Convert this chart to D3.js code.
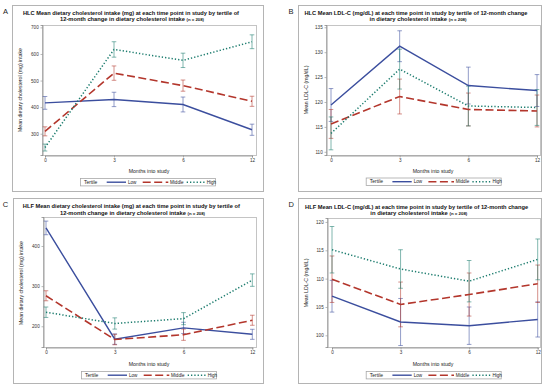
<!DOCTYPE html>
<html><head><meta charset="utf-8">
<script src="https://cdn.jsdelivr.net/npm/d3@7"></script>
<style>body{margin:0;background:#fff} svg{display:block;font-family:"Liberation Sans",Arial,sans-serif}</style>
</head><body><svg id="c" width="550" height="387"></svg>
<script>
// ---------- DATA ----------
const months = ["0", "3", "6", "12"];
const tertiles = ["Low", "Middle", "High"];

// Panel A: HLC dietary cholesterol (mg)
const aMean = [[416, 429, 410, 315], [309, 528, 481, 422], [248, 617, 576, 646]];
const aErr  = [[24, 27, 28, 21], [17, 27, 21, 19], [13, 29, 27, 26]];
const aTicks = [300, 400, 500, 600, 700];

// Panel B: HLC LDL-C (mg/dL)
const bMean = [[119.4, 131.2, 123.3, 122.3], [115.6, 121.1, 118.5, 118.2], [113.7, 126.6, 119.2, 118.9]];
const bErr  = [[3.3, 3.1, 3.7, 3.2], [2.9, 3.5, 3.3, 3.2], [3.3, 4.0, 4.0, 3.6]];
const bTicks = [110, 115, 120, 125, 130, 135];

// Panel C: HLF dietary cholesterol (mg)
const cMean = [[445, 168, 196, 180], [276, 167, 179, 215], [235, 207, 219, 315]];
const cErr  = [[17, 13, 14, 12.5], [12.5, 13, 14, 12.5], [13, 14, 15, 15.5]];
const cTicks = [200, 300, 400];

// Panel D: HLF LDL-C (mg/dL)
const dMean = [[106.9, 102.35, 101.7, 102.8], [109.9, 105.45, 107.2, 109.1], [115.1, 111.7, 109.55, 113.4]];
const dErr  = [[2.8, 4.15, 3.3, 3.1], [4.1, 3.95, 3.8, 3.3], [4.1, 3.4, 3.65, 3.6]];
const dTicks = [100, 105, 110, 115, 120];

const titleA = ["HLC Mean dietary cholesterol intake (mg) at each time point in study by tertile of", "12-month change in dietary cholesterol intake"];
const titleB = ["HLC Mean LDL-C (mg/dL) at each time point in study by tertile of 12-month change", "in dietary cholesterol intake"];
const titleC = ["HLF Mean dietary cholesterol intake (mg) at each time point in study by tertile of", "12-month change in dietary cholesterol intake"];
const titleD = ["HLF Mean LDL-C (mg/dL) at each time point in study by tertile of 12-month change", "in dietary cholesterol intake"];
const nNote = "(n = 208)";
const yLabChol = "Mean dietary cholesterol (mg) intake";
const yLabLdl = "Mean LDL-C (mg/dL)";
const xLab = "Months into study";
const legendTitle = "Tertile";

// ---------- STYLE ----------
const colors = ["#3B4E9E", "#B3362C", "#1C7C6E"];
const dashes = [null, "8,3.5", "1.3,2"];
const widths = [1.4, 1.6, 1.5];

const svg = d3.select("#c");
svg.append("rect").attr("width", 550).attr("height", 387).attr("fill", "#fff");

function panel(o) {
  const g = svg.append("g");
  // outer box
  g.append("rect").attr("x", o.box[0] + 0.5).attr("y", o.box[1] + 0.5)
    .attr("width", o.box[2] - o.box[0]).attr("height", o.box[3] - o.box[1])
    .attr("fill", "none").attr("stroke", "#b4b4b4").attr("stroke-width", 1);
  // letter
  g.append("text").attr("x", o.letter[1]).attr("y", o.letter[2]).text(o.letter[0])
    .attr("font-size", 7.5).attr("fill", "#222");
  // title
  const t1 = g.append("text").attr("x", o.t1[0]).attr("y", o.t1[1]).attr("text-anchor", "middle")
    .attr("font-size", 5.4).attr("font-weight", "bold").attr("fill", "#111")
    .attr("textLength", o.t1[2]).attr("lengthAdjust", "spacingAndGlyphs").text(o.title[0]);
  const t2 = g.append("text").attr("x", o.t2[0]).attr("y", o.t2[1]).attr("text-anchor", "middle")
    .attr("font-weight", "bold").attr("fill", "#111").attr("font-size", 5.4)
    .attr("textLength", o.t2[2]).attr("lengthAdjust", "spacingAndGlyphs");
  t2.append("tspan").text(o.title[1] + " ");
  t2.append("tspan").attr("font-size", 4).text(nNote);

  const p = o.plot;
  const x = d3.scalePoint().domain(months).range(o.xr);
  const y = d3.scaleLinear().domain(o.yd).range([p[3], p[1]]);

  // frame
  g.append("rect").attr("x", p[0] + 0.5).attr("y", p[1] + 0.5).attr("width", p[2] - p[0]).attr("height", p[3] - p[1])
    .attr("fill", "none").attr("stroke", "#c4c4c4").attr("stroke-width", 1);

  const ya = g.append("g").attr("transform", `translate(${p[0] + 0.5},0)`)
    .call(d3.axisLeft(y).tickValues(o.ticks).tickSize(2).tickPadding(1.8));
  const xa = g.append("g").attr("transform", `translate(0,${p[3] + 0.5})`)
    .call(d3.axisBottom(x).tickSize(2).tickPadding(1.6));
  [ya, xa].forEach(a => {
    a.select(".domain").attr("stroke", "#8a8a8a").attr("stroke-width", 0.8);
    a.selectAll(".tick line").attr("stroke", "#8a8a8a").attr("stroke-width", 0.6);
    a.selectAll(".tick text").attr("font-size", 4.6).attr("fill", "#333")
      .attr("font-family", '"Liberation Sans",Arial,sans-serif');
  });

  // axis labels
  g.append("text").attr("transform", `translate(${o.yl[0]},${o.yl[1]}) rotate(-90)`)
    .attr("text-anchor", "middle").attr("font-size", 5.2).attr("fill", "#222").text(o.ylab);
  g.append("text").attr("x", o.xl[0]).attr("y", o.xl[1]).attr("text-anchor", "middle")
    .attr("font-size", 5.2).attr("fill", "#222").text(xLab);

  // error bars
  o.mean.forEach((ser, si) => {
    const eg = g.append("g").attr("stroke", colors[si]).attr("stroke-opacity", 0.62).attr("stroke-width", 0.9).attr("fill", "none");
    ser.forEach((m, i) => {
      const cx = x(months[i]), lo = y(m - o.err[si][i]), hi = y(m + o.err[si][i]);
      eg.append("line").attr("x1", cx).attr("x2", cx).attr("y1", lo).attr("y2", hi);
      eg.append("line").attr("x1", cx - 2.3).attr("x2", cx + 2.3).attr("y1", lo).attr("y2", lo);
      eg.append("line").attr("x1", cx - 2.3).attr("x2", cx + 2.3).attr("y1", hi).attr("y2", hi);
    });
  });
  // lines
  const line = d3.line().x((d, i) => x(months[i])).y(d => y(d));
  o.mean.forEach((ser, si) => {
    g.append("path").attr("d", line(ser)).attr("fill", "none").attr("stroke", colors[si])
      .attr("stroke-width", widths[si]).attr("stroke-dasharray", dashes[si]);
  });

  // legend
  const L = o.leg;
  const lg = g.append("g").attr("transform", `translate(${L[0]},${L[1]})`);
  lg.append("rect").attr("x", 0.5).attr("y", 0.5).attr("width", 135).attr("height", 7.4)
    .attr("fill", "#fff").attr("stroke", "#a8a8a8").attr("stroke-width", 0.8);
  lg.append("text").attr("x", 4).attr("y", 5.8).attr("font-size", 5).attr("fill", "#222").text(legendTitle);
  const items = [[26.7, 46, 48], [62.7, 88.3, 90], [106.7, 125, 126.7]];
  tertiles.forEach((tn, si) => {
    const it = items[si];
    lg.append("line").attr("x1", it[0]).attr("x2", it[1]).attr("y1", 4.2).attr("y2", 4.2)
      .attr("stroke", colors[si]).attr("stroke-width", widths[si]).attr("stroke-dasharray", dashes[si]);
    lg.append("text").attr("x", it[2]).attr("y", 5.8).attr("font-size", 4.6).attr("fill", "#222").text(tn);
  });
}

panel({box: [12, 5, 263, 191], letter: ["A", 3, 13.5], title: titleA,
  t1: [131, 14.5, 216], t2: [132, 21, 144],
  plot: [42, 25, 256, 155], xr: [45, 252], yd: [220, 709], ticks: aTicks, mean: aMean, err: aErr,
  ylab: yLabChol, yl: [22, 90], xl: [149, 172.5], leg: [80, 178]});

panel({box: [298, 5, 541, 191], letter: ["B", 288.5, 14], title: titleB,
  t1: [416, 14.5, 223], t2: [418, 21, 97],
  plot: [326, 25, 540, 155], xr: [331, 537], yd: [109.36, 135.46], ticks: bTicks, mean: bMean, err: bErr,
  ylab: yLabLdl, yl: [307.5, 90], xl: [433, 172.5], leg: [365.7, 177.5]});

panel({box: [13, 198, 263, 383], letter: ["C", 2.7, 206.5], title: titleC,
  t1: [131.3, 207.8, 217], t2: [132.5, 214.8, 145],
  plot: [43, 217, 256, 347], xr: [46, 252.3], yd: [148.4, 472.2], ticks: cTicks, mean: cMean, err: cErr,
  ylab: yLabChol, yl: [22.5, 283], xl: [149, 366], leg: [81, 371]});

panel({box: [298, 198, 541, 383], letter: ["D", 288.5, 207], title: titleD,
  t1: [416.6, 208.5, 223], t2: [418.8, 215, 97],
  plot: [327, 218, 540, 347], xr: [332, 537.7], yd: [97.94, 120.7], ticks: dTicks, mean: dMean, err: dErr,
  ylab: yLabLdl, yl: [307.5, 283], xl: [433, 366], leg: [365.7, 371]});
</script></body></html>
